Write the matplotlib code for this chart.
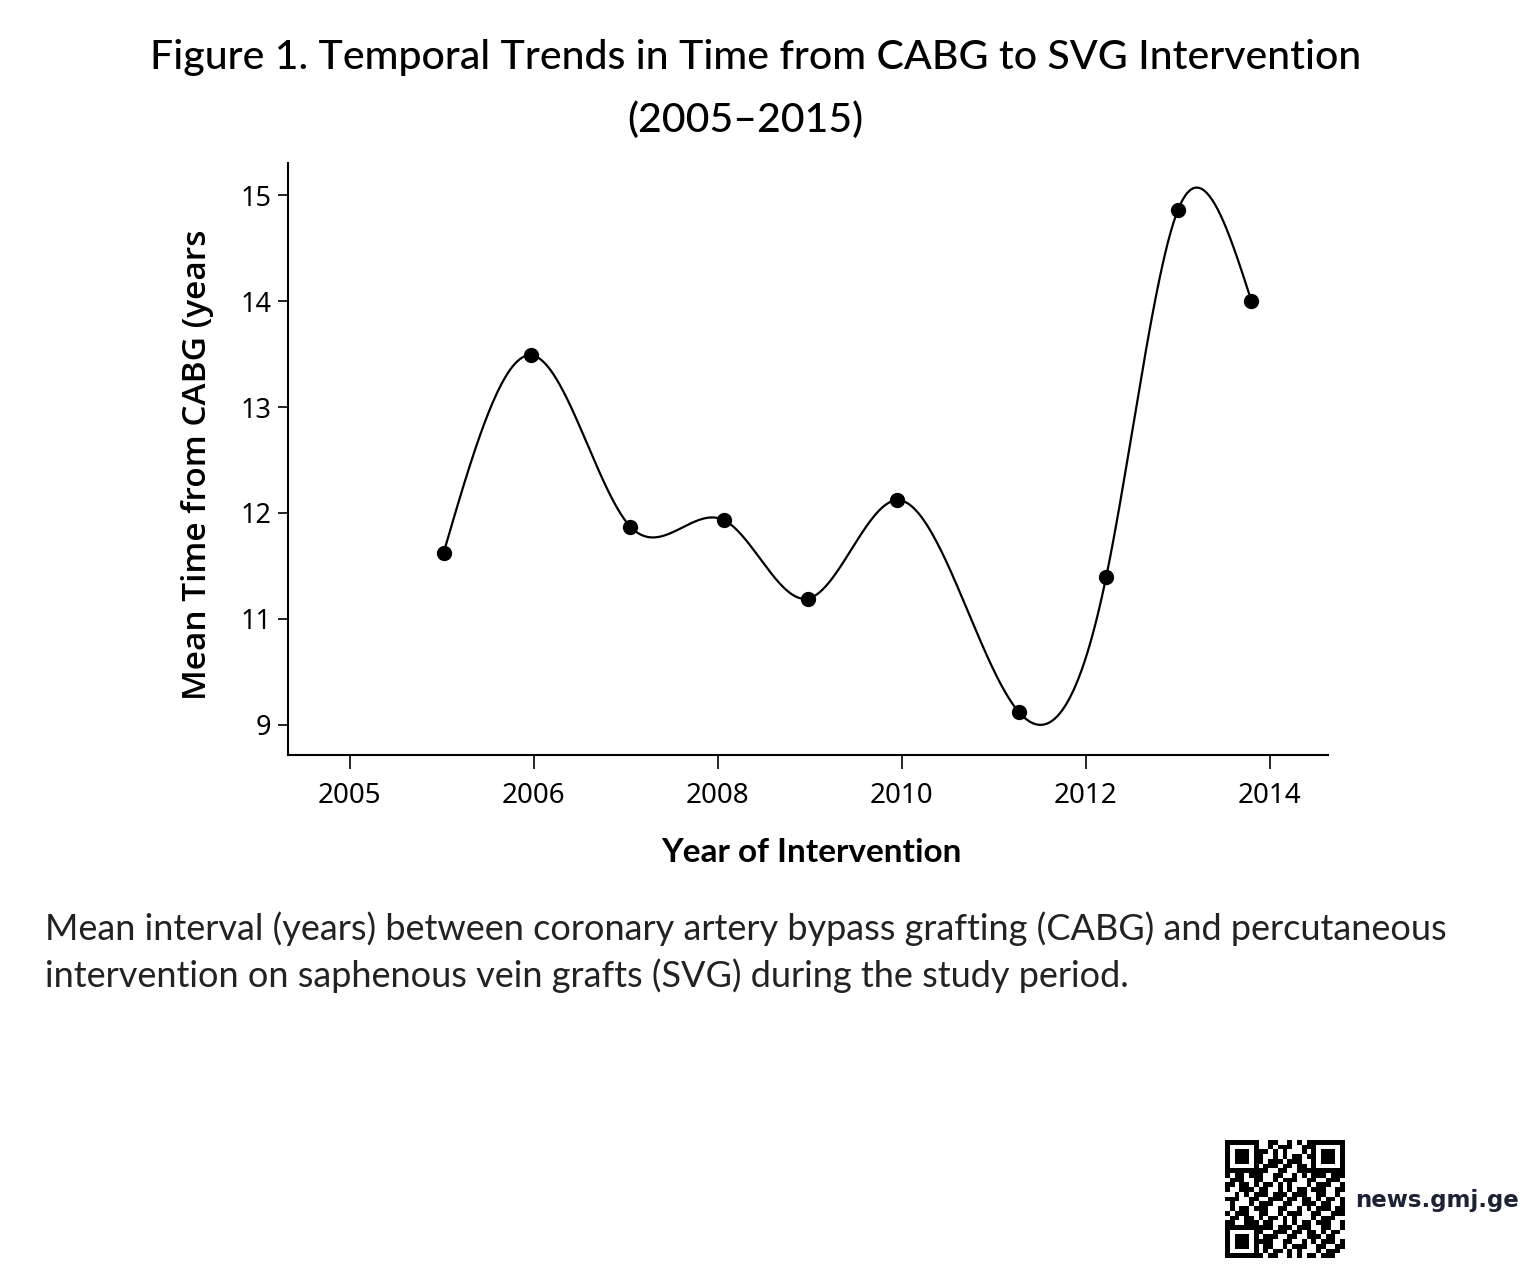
import numpy as np
import matplotlib.pyplot as plt

# values (axis units as drawn)
years = [2005.02, 2005.97, 2007.05, 2008.07, 2008.98, 2009.95, 2011.27, 2012.22, 2013.0, 2013.8]
mean_time = [11.62, 13.49, 11.87, 11.93, 11.19, 12.12, 10.12, 11.39, 14.86, 14.0]

x_tick_pos = [2004, 2006, 2008, 2010, 2012, 2014]
x_tick_labels = ['2005', '2006', '2008', '2010', '2012', '2014']
y_tick_pos = [10, 11, 12, 13, 14, 15]
y_tick_labels = ['9', '11', '12', '13', '14', '15']

title = 'Figure 1. Temporal Trends in Time from CABG to SVG Intervention'
subtitle = '(2005\u20132015)'
caption = ('Mean interval (years) between coronary artery bypass grafting (CABG) and percutaneous\n'
           'intervention on saphenous vein grafts (SVG) during the study period.')


def natural_spline(x, y, n=600):
    x = np.asarray(x, float)
    y = np.asarray(y, float)
    k = len(x)
    h = np.diff(x)
    A = np.zeros((k, k))
    r = np.zeros(k)
    A[0, 0] = A[-1, -1] = 1
    for i in range(1, k - 1):
        A[i, i - 1] = h[i - 1]
        A[i, i] = 2 * (h[i - 1] + h[i])
        A[i, i + 1] = h[i]
        r[i] = 6 * ((y[i + 1] - y[i]) / h[i] - (y[i] - y[i - 1]) / h[i - 1])
    m = np.linalg.solve(A, r)
    xs = np.linspace(x[0], x[-1], n)
    idx = np.clip(np.searchsorted(x, xs) - 1, 0, k - 2)
    x0, x1 = x[idx], x[idx + 1]
    hh = x1 - x0
    a = (x1 - xs) / hh
    b = (xs - x0) / hh
    ys = (a * y[idx] + b * y[idx + 1]
          + ((a ** 3 - a) * m[idx] + (b ** 3 - b) * m[idx + 1]) * hh ** 2 / 6)
    return xs, ys


fig = plt.figure(figsize=(15.36, 12.8), dpi=100)
ax = fig.add_axes([0.1875, 0.41, 0.677, 0.463])

xs, ys = natural_spline(years, mean_time)
ax.plot(xs, ys, color='black', lw=1.6)
ax.plot(years, mean_time, 'o', color='black', ms=10)

ax.set_xlim(2003.33, 2014.63)
ax.set_ylim(9.71, 15.31)
ax.set_xticks(x_tick_pos)
ax.set_xticklabels(x_tick_labels)
ax.set_yticks(y_tick_pos)
ax.set_yticklabels(y_tick_labels)
for s in ['top', 'right']:
    ax.spines[s].set_visible(False)
for s in ['left', 'bottom']:
    ax.spines[s].set_linewidth(1.5)
ax.tick_params(axis='y', length=7, width=1.2, pad=5, labelsize=19.5)
ax.tick_params(axis='x', length=10, width=1.2, pad=9, labelsize=20)
for lab in ax.get_xticklabels() + ax.get_yticklabels():
    lab.set_family('Noto Sans')

ax.set_ylabel('Mean Time from CABG (years', family='Open Sans', fontsize=24,
              weight='semibold', va='center')
ax.yaxis.set_label_coords(-0.087, 0.49)
ax.set_xlabel('Year of Intervention', family='Lato', fontsize=24, weight='bold', va='center')
ax.xaxis.set_label_coords(0.503, -0.164)

fig.text(0.492, 0.955, title, family='Lato', fontsize=29.5, weight='medium',
         ha='center', va='center')
fig.text(0.485, 0.906, subtitle, family='Lato', fontsize=29.5, weight='medium',
         ha='center', va='center')
fig.text(0.029, 0.256, caption, family='Lato', fontsize=26, ha='left', va='center',
         color='#222222', linespacing=1.45)

# QR-like badge
url = 'news.gmj.ge'
n = 25
bits = np.unpackbits(np.frombuffer((url * 10).encode(), dtype=np.uint8))[:n * n].reshape(n, n)
qr = bits.astype(float)
for (r0, c0) in [(0, 0), (0, n - 7), (n - 7, 0)]:
    qr[r0:r0 + 7, c0:c0 + 7] = 1
    qr[r0 + 1:r0 + 6, c0 + 1:c0 + 6] = 0
    qr[r0 + 2:r0 + 5, c0 + 2:c0 + 5] = 1
qax = fig.add_axes([1225 / 1536, 1 - 1258 / 1280, 120 / 1536, 118 / 1280])
qax.imshow(qr, cmap='gray_r', interpolation='nearest', aspect='auto')
qax.axis('off')
fig.text(1355 / 1536, 1 - 1200 / 1280, url, family='DejaVu Sans', fontsize=16.5,
         weight='bold', color='#1a2233', ha='left', va='center')

fig.savefig('out.png', dpi=100, facecolor='white')
